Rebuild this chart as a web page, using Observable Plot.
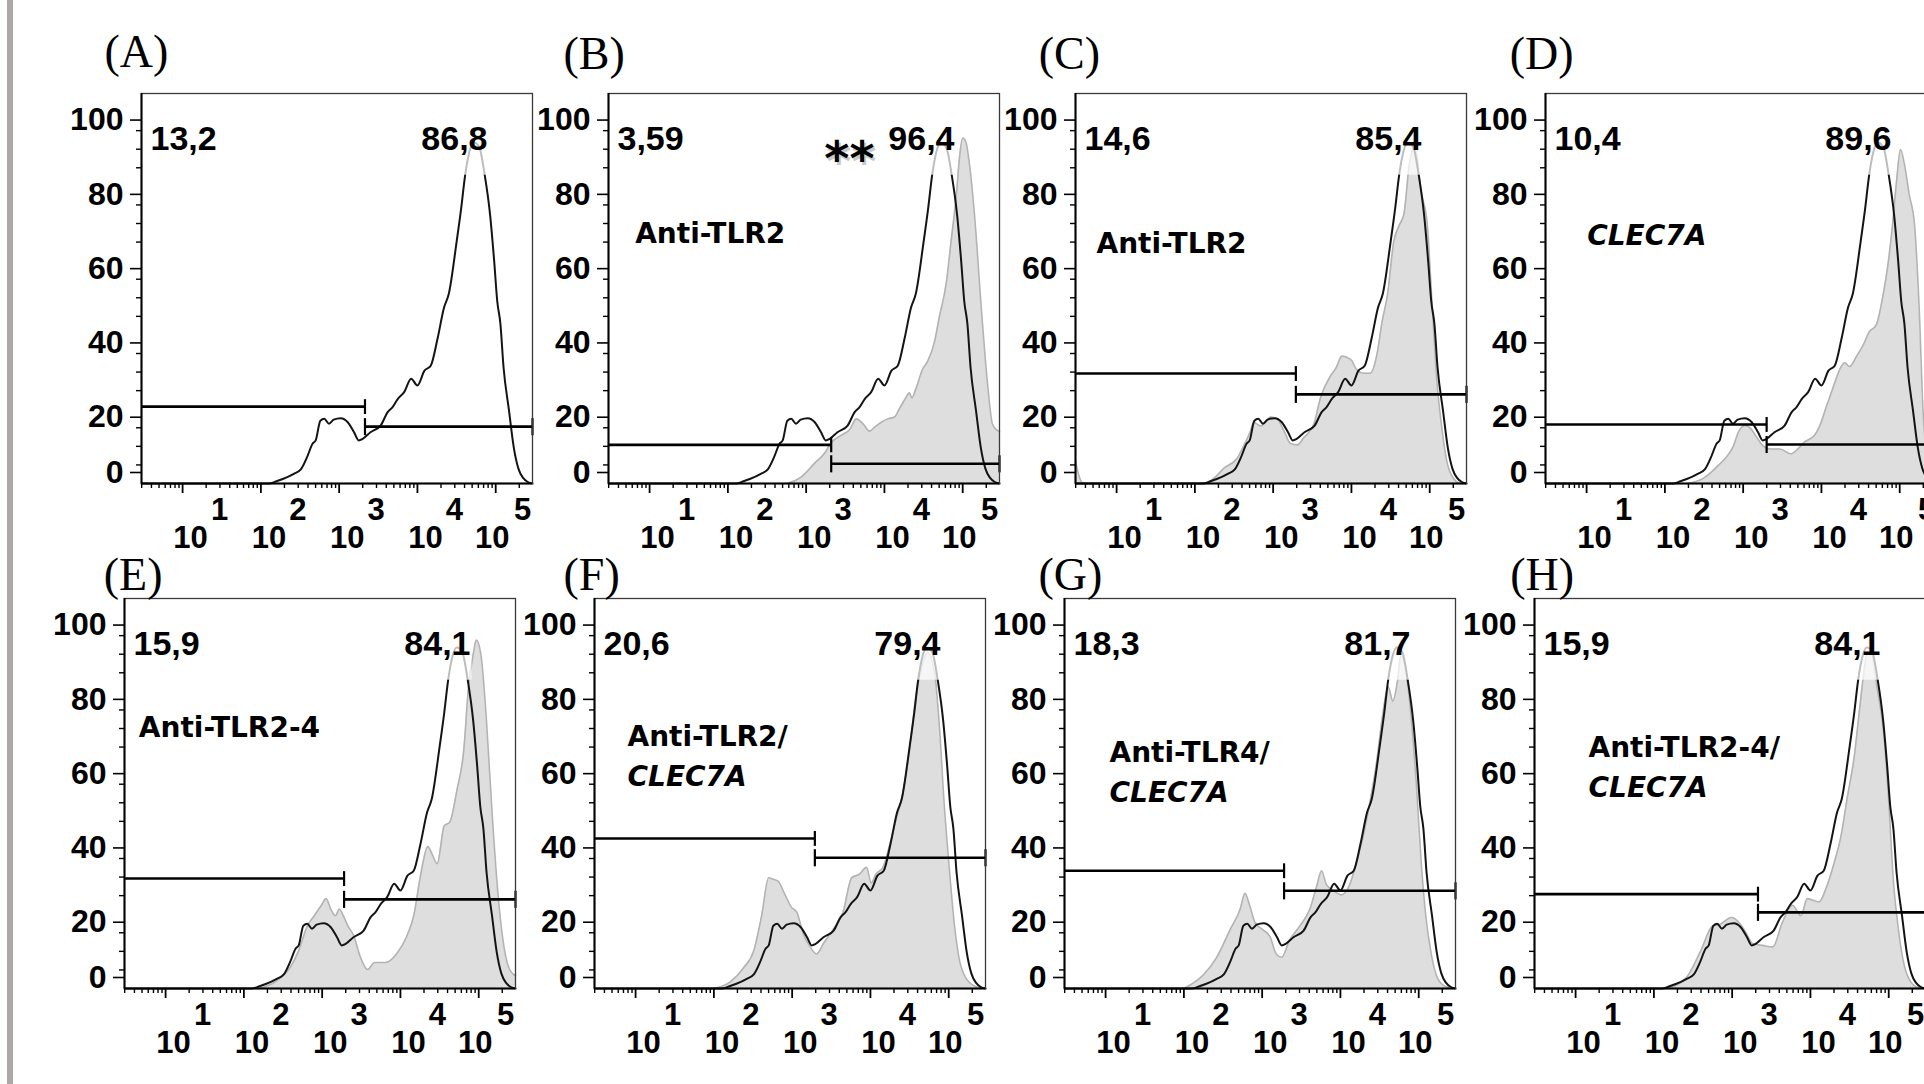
<!DOCTYPE html>
<html>
<head>
<meta charset="utf-8">
<script src="https://cdn.jsdelivr.net/npm/d3@7"></script>
<script src="https://cdn.jsdelivr.net/npm/@observablehq/plot@0.6"></script>
<style>
  html, body { margin: 0; padding: 0; background: #fff; }
  body { width: 1924px; height: 1084px; overflow: hidden; position: relative; }
  #bar { position: absolute; left: 7px; top: 0; width: 6px; height: 1084px; background: #aca8a8; }
  #fig { position: absolute; left: 0; top: 0; width: 1924px; height: 1084px; }
</style>
</head>
<body>
<div id="bar"></div>
<div id="fig"></div>
<script>
// ---------------- DATA ----------------
// x = log10 fluorescence intensity, y = % of max (normalized to mode)
const panelIds   = ["(A)", "(B)", "(C)", "(D)", "(E)", "(F)", "(G)", "(H)"];
const leftPct    = ["13,2", "3,59", "14,6", "10,4", "15,9", "20,6", "18,3", "15,9"];
const rightPct   = ["86,8", "96,4", "85,4", "89,6", "84,1", "79,4", "81,7", "84,1"];
const annotLine1 = [null, "Anti-TLR2", "Anti-TLR2", null, "Anti-TLR2-4", "Anti-TLR2/", "Anti-TLR4/", "Anti-TLR2-4/"];
const annotLine2 = [null, null, null, "CLEC7A", null, "CLEC7A", "CLEC7A", "CLEC7A"];
const significance = [null, "**", null, null, null, null, null, null];

// gate boundary (log10) and gate bar heights (% of max)
const gateSplit  = [3.33, 3.32, 3.29, 3.30, 3.28, 3.29, 3.28, 3.33];
const gateLeftY  = [20.7, 10.4, 29.6, 15.9, 29.6, 40.4, 31.7, 25.4];
const gateRightY = [15.3,  5.3, 24.0, 10.5, 24.0, 35.2, 26.3, 20.5];

// axis ticks
const decades = [10, 100, 1000, 10000, 100000];
const decadeExponents = ["1", "2", "3", "4", "5"];
const yMajor = [0, 20, 40, 60, 80, 100];
const yMinor = [5, 10, 15, 25, 30, 35, 45, 50, 55, 65, 70, 75, 85, 90, 95];

// control (black outline) histogram
const control = [
  [0.475,0],[2.10,0],[2.20,0.6],[2.28,1.2],[2.42,2.6],[2.51,3.8],[2.59,7.1],[2.66,10.7],[2.70,11.6],
  [2.76,16.9],[2.81,17.4],[2.87,16.1],[2.93,17.2],[3.02,17.6],[3.11,16.5],[3.19,13.8],[3.25,11.6],
  [3.30,12.0],[3.40,13.8],[3.53,15.6],[3.62,19.2],[3.68,20.5],[3.75,22.8],[3.83,24.6],[3.92,28.2],
  [4.00,26.4],[4.09,30.4],[4.17,31.7],[4.26,39.3],[4.34,47.4],[4.40,51],[4.50,65],[4.56,74.3],
  [4.61,83.1],[4.66,89],[4.72,91.8],[4.79,90.5],[4.86,83],[4.93,72],[4.98,60],[5.02,49],[5.06,43],
  [5.10,31.3],[5.17,19.6],[5.23,9.8],[5.29,4],[5.35,1.5],[5.41,0.4],[5.47,0]
];

// treated (grey filled) histograms
const treatedB = [
  [2.75,0],[2.94,1.8],[3.11,5.5],[3.24,8.3],[3.32,11],[3.45,13],[3.56,14.6],[3.64,17.4],[3.73,16],
  [3.81,14.1],[3.87,15.1],[3.96,16.5],[4.04,17.4],[4.13,17.9],[4.19,20.1],[4.26,22.6],[4.32,24.4],
  [4.35,23],[4.40,25.4],[4.49,30.9],[4.55,32.8],[4.64,38.2],[4.70,44.7],[4.79,54],[4.85,65],[4.92,78],
  [4.96,88],[5.00,93],[5.04,92],[5.08,87],[5.15,72.5],[5.24,46.5],[5.32,26.2],[5.38,16],[5.43,14.5],[5.47,14]
];
const treatedC = [
  [0.475,6],[0.52,2],[0.58,0],[2.11,0],[2.25,1.5],[2.37,4.1],[2.54,6.8],[2.63,10.4],[2.71,14.1],[2.75,16.5],
  [2.84,15.5],[2.97,17.9],[3.05,17.4],[3.14,14.1],[3.22,10.8],[3.31,10.4],[3.39,12.3],[3.52,16.0],
  [3.61,23.4],[3.73,28.9],[3.80,31],[3.88,34.3],[3.99,33.4],[4.07,30.6],[4.16,29.7],[4.24,29.7],
  [4.33,35.2],[4.39,43.4],[4.46,50.7],[4.54,65],[4.61,69.5],[4.67,72.5],[4.74,86],[4.80,90.5],[4.84,88],
  [4.88,80],[4.97,69.5],[5.03,48.3],[5.09,28],[5.16,14.1],[5.22,5.8],[5.31,1.2],[5.40,0],[5.47,0]
];
const treatedD = [
  [2.30,0],[2.50,1.5],[2.66,4.4],[2.80,7.5],[2.87,9.8],[2.95,14.3],[3.03,15.6],[3.10,14.7],[3.16,12.9],
  [3.25,10.2],[3.34,9.3],[3.47,9.3],[3.61,8.0],[3.70,9.3],[3.78,11.1],[3.91,12.9],[3.97,15.1],[4.06,20.5],
  [4.12,24.1],[4.18,27.7],[4.24,31],[4.30,32.5],[4.36,31.5],[4.45,34.3],[4.53,37.1],[4.61,40.8],[4.70,42.7],
  [4.79,51],[4.85,59],[4.91,70],[4.96,81.5],[5.01,89.9],[5.06,86],[5.12,78],[5.19,69.5],[5.25,46.5],
  [5.30,18.8],[5.36,6],[5.42,2],[5.47,1]
];
const treatedE = [
  [2.18,0],[2.40,1.8],[2.59,5.6],[2.70,10.2],[2.81,16.8],[2.90,19.6],[2.99,22.4],[3.05,24.2],[3.11,21.4],
  [3.17,19.6],[3.22,21.4],[3.27,19.6],[3.33,16.8],[3.40,14.4],[3.49,8.4],[3.58,5.1],[3.67,7.0],[3.81,7.0],
  [3.95,9.3],[4.08,14],[4.17,19.6],[4.26,30.8],[4.35,38.2],[4.40,36.4],[4.47,33.6],[4.56,43.8],[4.63,44.8],
  [4.72,53.2],[4.81,64.4],[4.87,81.2],[4.93,90],[4.97,93.8],[5.03,89.6],[5.10,71.8],[5.17,47.6],[5.24,27],
  [5.31,13],[5.37,6.5],[5.45,3.7],[5.47,3.5]
];
const treatedF = [
  [2.00,0],[2.21,1.8],[2.38,5.6],[2.51,10.2],[2.61,19.6],[2.70,29.8],[2.76,29.4],[2.82,28.9],[2.91,25.2],
  [2.99,21.9],[3.06,20.5],[3.14,14.9],[3.23,11.2],[3.31,9.3],[3.40,12.1],[3.52,15.8],[3.65,20.5],[3.76,29.8],
  [3.86,30.8],[3.95,32.6],[4.01,28.4],[4.07,30.8],[4.16,32.6],[4.24,38.2],[4.33,45.7],[4.41,52.2],[4.50,64.4],
  [4.58,78.4],[4.67,87.7],[4.73,90.5],[4.82,84.9],[4.88,70.9],[4.94,50.4],[5.01,31.7],[5.07,17.7],[5.13,8.4],
  [5.22,2.8],[5.35,0.5],[5.47,0]
];
const treatedG = [
  [2.00,0],[2.25,3.7],[2.42,8.4],[2.59,15.8],[2.72,21.4],[2.78,25.6],[2.84,22.4],[2.91,17.7],[3.01,15.8],
  [3.10,14],[3.18,9.3],[3.25,8.4],[3.35,13],[3.48,16.8],[3.61,21.4],[3.69,27],[3.76,31.7],[3.82,28],
  [3.93,26.1],[4.01,25.2],[4.12,28],[4.20,33.6],[4.29,41],[4.37,49.4],[4.46,60.6],[4.54,73.7],[4.61,81.2],
  [4.67,77.4],[4.73,83],[4.77,89.6],[4.84,84.9],[4.90,73.7],[4.97,55],[5.03,34.5],[5.09,19.6],[5.16,9.3],
  [5.24,2.8],[5.35,0.5],[5.47,0]
];
const treatedH = [
  [2.16,0],[2.41,2.8],[2.60,10.2],[2.75,16.8],[2.84,17.2],[2.99,19.1],[3.09,17.7],[3.18,14.9],[3.26,12.1],
  [3.39,11.6],[3.52,11.2],[3.64,17.7],[3.77,22.4],[3.88,19.6],[3.96,24.2],[4.11,23.3],[4.20,27],[4.30,33.6],
  [4.39,41],[4.47,51.3],[4.56,62.5],[4.62,73.7],[4.66,81.2],[4.73,90.5],[4.79,89.6],[4.85,81.2],[4.94,68.1],
  [5.00,50.4],[5.06,28.9],[5.13,14.9],[5.22,4.6],[5.35,0.5],[5.47,0]
];
const treated = [null, treatedB, treatedC, treatedD, treatedE, treatedF, treatedG, treatedH];

// ---------------- LAYOUT / STYLE ----------------
const LOG_MIN = 0.475, LOG_MAX = 5.47;
const xDomain = [10 ** LOG_MIN, 10 ** LOG_MAX];
const yDomain = [0, 105];
const FRAME_W = 391, FRAME_H = 390;
const ML = 80, MR = 20, MT = 70, MB = 80;
const panelBox = [
  {left: 141,    top: 93,    lab: [-37, -38],    ann: [26.7, 139.7]},
  {left: 608.3,  top: 93,    lab: [-45, -36.5],  ann: [26.7, 139.7]},
  {left: 1075,   top: 93,    lab: [-36.7, -36.5],ann: [21, 149.8]},
  {left: 1545,   top: 93,    lab: [-35.7, -36.5],ann: [41.7, 142]},
  {left: 124.3,  top: 598.3, lab: [-20.7, -20.3],ann: [14.3, 129]},
  {left: 594.3,  top: 598.3, lab: [-31, -20.3],  ann: [33, 137.7]},
  {left: 1064.3, top: 598.3, lab: [-26, -20.3],  ann: [45, 153.3]},
  {left: 1534.3, top: 598.3, lab: [-24.3, -20.3],ann: [54, 149]}
];
const NUM_FONT = "Liberation Sans, Arial, Helvetica, sans-serif";
const SERIF_FONT = "Liberation Serif, Times New Roman, serif";
const HAND_FONT = "Comic Sans MS, DejaVu Sans, sans-serif";
const MASK_FLOOR = 83;   // label background box reaches down to this level

const minorX = [];
for (const p of [1, 10, 100, 1000, 10000, 100000]) {
  for (let k = 2; k <= 9; k++) {
    const v = k * p;
    if (v >= xDomain[0] && v <= xDomain[1]) minorX.push(v);
  }
}
const fx = d => 10 ** d[0];
const fy = d => d[1];
const expOf = d => decadeExponents[decades.indexOf(d)];

function makePanel(i) {
  const box = panelBox[i];
  const marks = [];
  const tr = treated[i];
  if (tr) {
    marks.push(Plot.areaY(tr, {x: fx, y: fy, fill: "#dedede", curve: "monotone-x"}));
    marks.push(Plot.line(tr, {x: fx, y: fy, stroke: "#b3b3b3", strokeWidth: 1.6, curve: "monotone-x"}));
  }
  marks.push(Plot.line(control, {x: fx, y: fy, stroke: "#141414", strokeWidth: 2, curve: "monotone-x"}));

  // gates
  const split = 10 ** gateSplit[i];
  const bars = [
    {x1: xDomain[0], x2: split, y: gateLeftY[i]},
    {x1: split, x2: xDomain[1], y: gateRightY[i]}
  ];
  const caps = [
    {x: split, y1: gateLeftY[i] - 2.0, y2: gateLeftY[i] + 2.0},
    {x: split, y1: gateRightY[i] - 2.3, y2: gateRightY[i] + 2.3},
    {x: xDomain[1], y1: gateRightY[i] - 2.3, y2: gateRightY[i] + 2.3}
  ];
  marks.push(Plot.link(bars, {x1: "x1", x2: "x2", y1: "y", y2: "y", stroke: "#000", strokeWidth: 2.6}));
  marks.push(Plot.link(caps, {x1: "x", x2: "x", y1: "y1", y2: "y2", stroke: "#000", strokeWidth: 2.2}));

  // frame and axis lines
  marks.push(Plot.frame({stroke: "#3a3a3a", strokeWidth: 1.3}));
  marks.push(Plot.ruleX([xDomain[0]], {stroke: "#000", strokeWidth: 2}));
  marks.push(Plot.ruleY([0], {stroke: "#000", strokeWidth: 2}));

  // y axis
  const yLbl = {tickSize: 11, tickPadding: 7, label: null, fontSize: 32, fontWeight: "bold",
    fontFamily: NUM_FONT, stroke: "#000", strokeWidth: 1.6, fill: "#000"};
  marks.push(Plot.axisY({ticks: yMinor, tickSize: 5, tickFormat: () => "", label: null, stroke: "#000", strokeWidth: 1.4}));
  marks.push(Plot.axisY({ticks: yMajor.filter(v => v > 0), dy: 8, ...yLbl}));
  marks.push(Plot.axisY({ticks: yMajor.filter(v => v === 0), dy: -11, ...yLbl}));

  // x axis (log, decade labels as 10 with exponent)
  marks.push(Plot.axisX({ticks: minorX, tickSize: 5, tickFormat: () => "", label: null, stroke: "#000", strokeWidth: 1.4}));
  marks.push(Plot.axisX({ticks: decades, tickSize: 10, tickFormat: () => "", label: null, stroke: "#000", strokeWidth: 1.8}));
  const inner = decades.slice(0, 4), last = decades.slice(4);
  const lblStyle = {fontSize: 31, fontWeight: "bold", fontFamily: NUM_FONT, fill: "#000",
    lineAnchor: "middle", frameAnchor: "bottom", textAnchor: "middle"};
  marks.push(Plot.text(inner, {x: d => d, text: expOf, dx: 37, dy: 27, ...lblStyle}));
  marks.push(Plot.text(last,  {x: d => d, text: expOf, dx: 27, dy: 27, ...lblStyle}));
  marks.push(Plot.text(inner, {x: d => d, text: () => "10", dx: 8, dy: 55, ...lblStyle}));
  marks.push(Plot.text(last,  {x: d => d, text: () => "10", dx: -3.5, dy: 55, ...lblStyle}));

  // percentages
  const pctStyle = {text: d => d, lineAnchor: "middle", dy: 46, fontSize: 34, fontWeight: "bold", fontFamily: NUM_FONT, fill: "#000"};
  marks.push(Plot.text([leftPct[i]], {frameAnchor: "top-left", textAnchor: "start", dx: 9, ...pctStyle}));
  marks.push(Plot.text([rightPct[i]], {frameAnchor: "top-right", textAnchor: "end", dx: -45, ...pctStyle}));

  // significance stars
  if (significance[i]) {
    marks.push(Plot.text([significance[i]], {text: d => d, frameAnchor: "top-right", textAnchor: "end", lineAnchor: "middle",
      dx: -123, dy: 69, fontSize: 48, fontWeight: "bold", fontFamily: HAND_FONT, fill: "#888", fillOpacity: 0.45}));
    marks.push(Plot.text([significance[i]], {text: d => d, frameAnchor: "top-right", textAnchor: "end", lineAnchor: "middle",
      dx: -125, dy: 66.5, fontSize: 48, fontWeight: "bold", fontFamily: HAND_FONT, fill: "#000"}));
  }

  // treatment annotation
  const [ax, ay] = box.ann;
  if (annotLine1[i]) {
    marks.push(Plot.text([annotLine1[i]], {text: d => d, frameAnchor: "top-left", textAnchor: "start", lineAnchor: "middle",
      dx: ax, dy: ay + 1, fontSize: 28, fontWeight: "bold", fontFamily: HAND_FONT, fill: "#000"}));
  }
  if (annotLine2[i]) {
    const dy2 = annotLine1[i] ? ay + 41 : ay + 1;
    marks.push(Plot.text([annotLine2[i]], {text: d => d, frameAnchor: "top-left", textAnchor: "start", lineAnchor: "middle",
      dx: ax, dy: dy2, fontSize: 28, fontWeight: "bold", fontStyle: "italic", fontFamily: HAND_FONT, fill: "#000"}));
  }

  // panel letter
  marks.push(Plot.text([panelIds[i]], {text: d => d, frameAnchor: "top-left", textAnchor: "start", lineAnchor: "middle",
    dx: box.lab[0], dy: box.lab[1] - 3, fontSize: 46, fontWeight: "normal", fontFamily: SERIF_FONT, fill: "#000"}));

  const svg = Plot.plot({
    width: ML + FRAME_W + MR,
    height: MT + FRAME_H + MB,
    marginLeft: ML, marginRight: MR, marginTop: MT, marginBottom: MB,
    x: {type: "log", domain: xDomain},
    y: {domain: yDomain},
    style: {background: "none", overflow: "visible", fontFamily: NUM_FONT, color: "#000"},
    marks
  });
  svg.style.position = "absolute";
  svg.style.left = (box.left - ML) + "px";
  svg.style.top = (box.top - MT) + "px";
  svg.style.maxWidth = "none";
  return svg;
}

const fig = document.getElementById("fig");
for (let i = 0; i < 8; i++) {
  const svg = makePanel(i);
  fig.appendChild(svg);
  // semi-transparent label background (as in the FlowJo export) masking the peak top
  const t = Array.from(svg.querySelectorAll("text")).find(el => el.textContent === rightPct[i]);
  if (t) {
    const g = t.parentNode;
    const sr = svg.getBoundingClientRect();
    const r = t.getBoundingClientRect();
    const yFloor = svg.scale("y").apply(MASK_FLOOR);
    const top = r.top - sr.top;
    const rect = document.createElementNS("http://www.w3.org/2000/svg", "rect");
    rect.setAttribute("x", r.left - sr.left - 1);
    rect.setAttribute("y", top);
    rect.setAttribute("width", r.width + 2);
    rect.setAttribute("height", Math.max(0, yFloor - top));
    rect.setAttribute("fill", "#fff");
    rect.setAttribute("fill-opacity", "0.72");
    g.parentNode.insertBefore(rect, g);
  }
}
</script>
</body>
</html>
